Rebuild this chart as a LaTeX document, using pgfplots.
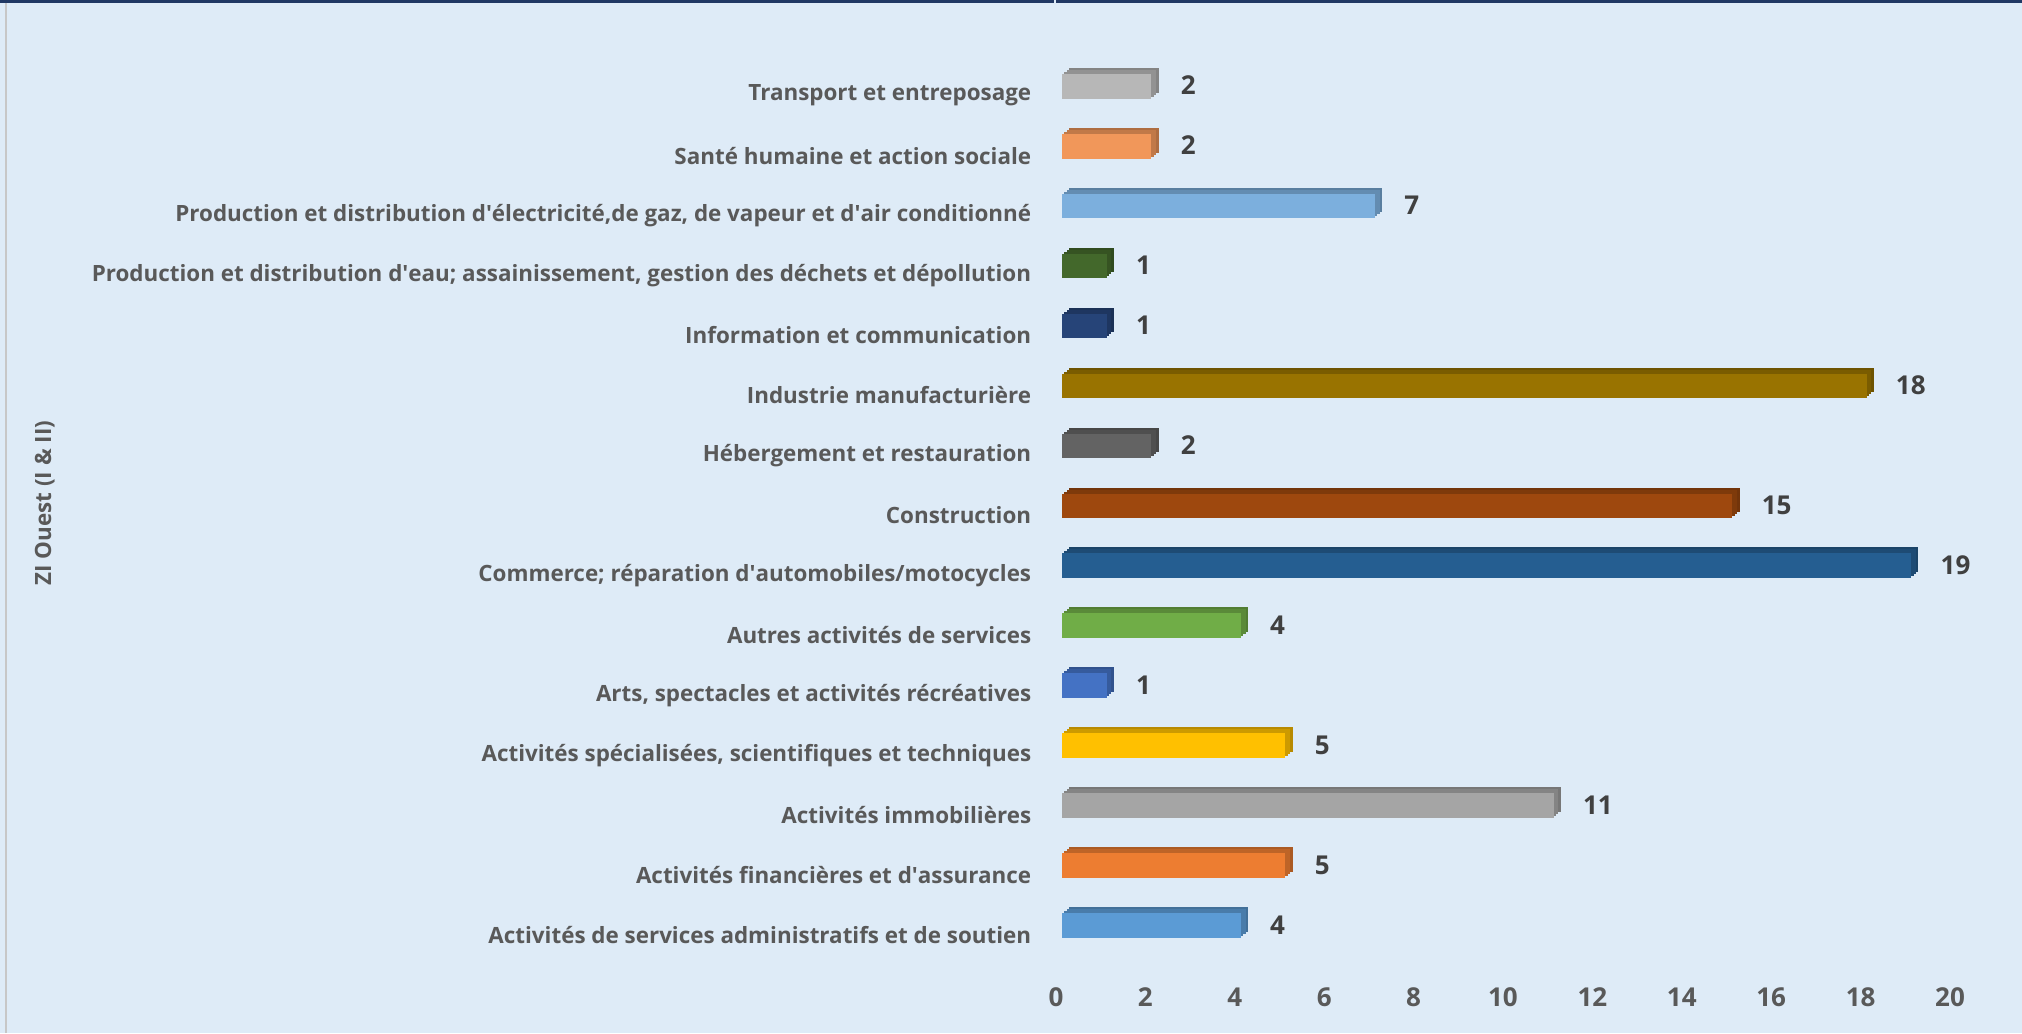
\documentclass[border=0pt]{standalone}
\usepackage{fontspec}
\setmainfont{Open Sans}
\usepackage{xcolor}
\usepackage{pgfplots}
\pgfplotsset{compat=1.18}

\definecolor{bgblue}{HTML}{DEEBF7}
\definecolor{topnavy}{HTML}{203864}
\definecolor{labgray}{HTML}{595959}
\definecolor{numgray}{HTML}{404040}
\definecolor{cA}{HTML}{5B9BD5}
\definecolor{cB}{HTML}{ED7D31}
\definecolor{cC}{HTML}{A5A5A5}
\definecolor{cD}{HTML}{FFC000}
\definecolor{cE}{HTML}{4472C4}
\definecolor{cF}{HTML}{70AD47}
\definecolor{cG}{HTML}{255E91}
\definecolor{cH}{HTML}{9E480E}
\definecolor{cI}{HTML}{636363}
\definecolor{cJ}{HTML}{997300}
\definecolor{cK}{HTML}{264478}
\definecolor{cL}{HTML}{43682B}
\definecolor{cM}{HTML}{7CAFDD}
\definecolor{cN}{HTML}{F1975A}
\definecolor{cO}{HTML}{B7B7B7}

\newcommand{\lbl}{\bfseries\fontsize{11.2}{13}\selectfont}
\newcommand{\num}{\bfseries\fontsize{13}{15}\selectfont}
\newcommand{\q}{\textquotesingle}

\pgfplotsset{
  cube/.style={xbar, bar width=12.4pt, bar shift=2.7pt, draw=none},
}
% one 3d-ish bar: darker copies stacked behind, front face on top
\newcommand{\cubebar}[3]{%
  \addplot[cube, fill=#3!72!black, xshift=6.6pt, yshift=3pt] coordinates {(#2,#1)};
  \addplot[cube, fill=#3!80!black, xshift=5.4pt, yshift=2pt] coordinates {(#2,#1)};
  \addplot[cube, fill=#3!80!black, xshift=4.2pt, yshift=1pt] coordinates {(#2,#1)};
  \addplot[cube, fill=#3, xshift=3pt, nodes near coords] coordinates {(#2,#1)};
}

\begin{document}
\begin{tikzpicture}
\fill[bgblue] (-528pt,-21pt) rectangle (483pt,495.5pt);
\begin{axis}[
  at={(0,0)}, anchor=south west,
  scale only axis,
  width=447pt, height=464.7pt,
  xmin=0, xmax=20, ymin=-1, ymax=14.5,
  xtick={0,2,...,20}, ytick={0,...,14},
  yticklabels={
    Activités de services administratifs et de soutien,
    Activités financières et d\q assurance,
    Activités immobilières,
    {Activités spécialisées, scientifiques et techniques},
    {Arts, spectacles et activités récréatives},
    Autres activités de services,
    Commerce; réparation d\q automobiles/motocycles,
    Construction,
    Hébergement et restauration,
    Industrie manufacturière,
    Information et communication,
    {Production et distribution d\q eau; assainissement, gestion des déchets et dépollution},
    {Production et distribution d\q électricité,de gaz, de vapeur et d\q air conditionné},
    Santé humaine et action sociale,
    Transport et entreposage},
  axis line style={draw=none},
  tick style={draw=none},
  /pgf/number format/assume math mode=true,
  xticklabel style={font=\num, text=labgray, anchor=center, yshift=-3pt},
  yticklabel style={font=\lbl, text=labgray, anchor=east, inner sep=0pt, xshift=-12.2pt, yshift=-2pt},
  ylabel={ZI Ouest (I \& II)},
  ylabel style={at={(axis description cs:-1.131,0.525)}, anchor=center, font=\lbl, text=labgray},
  every node near coord/.append style={font=\num, text=numgray, anchor=west, inner sep=0pt, xshift=14.5pt, yshift=3pt},
  clip=false,
]
  \cubebar{0}{4}{cA}
  \cubebar{1}{5}{cB}
  \cubebar{2}{11}{cC}
  \cubebar{3}{5}{cD}
  \cubebar{4}{1}{cE}
  \cubebar{5}{4}{cF}
  \cubebar{6}{19}{cG}
  \cubebar{7}{15}{cH}
  \cubebar{8}{2}{cI}
  \cubebar{9}{18}{cJ}
  \cubebar{10}{1}{cK}
  \cubebar{11}{1}{cL}
  \cubebar{12}{7}{cM}
  \cubebar{13}{2}{cN}
  \cubebar{14}{2}{cO}
\end{axis}
\fill[topnavy] (-528pt,494pt) rectangle (-1pt,495.5pt);
\fill[topnavy] (0pt,494pt) rectangle (483pt,495.5pt);
\draw[black!22, line width=0.6pt] (-525pt,-21pt) -- (-525pt,494pt);
\pgfresetboundingbox
\useasboundingbox (-528pt,-21pt) rectangle (483pt,495.5pt);
\end{tikzpicture}
\end{document}
